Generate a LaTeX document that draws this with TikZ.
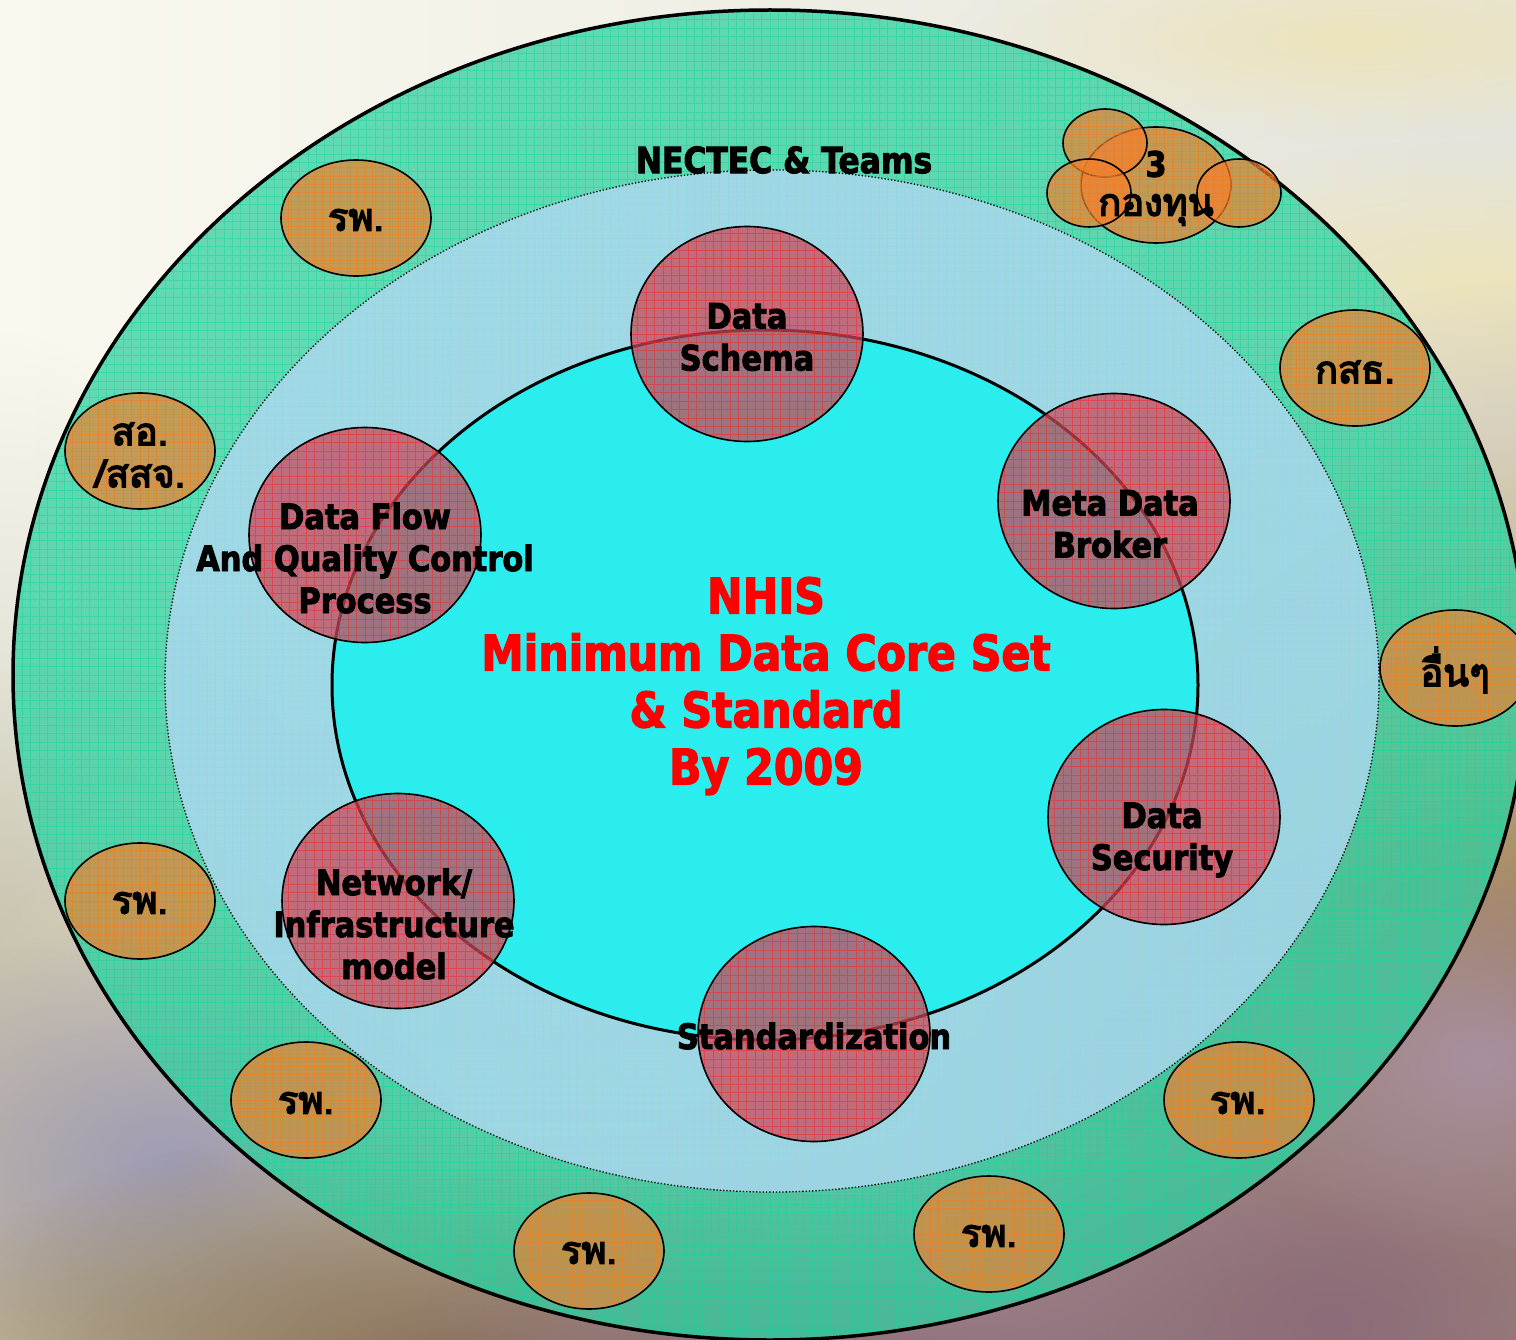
\documentclass[tikz,border=0pt]{standalone}
\usepackage{fontspec}
\setmainfont{DejaVu Sans}[FakeStretch=0.87, BoldFeatures={FakeBold=2.5}]
\newfontfamily\thaifont[Script=Thai,FakeBold=4]{Loma}
\usetikzlibrary{shapes.geometric,fadings}
\tikzfading[name=soft, inner color=transparent!0, outer color=transparent!100]
\definecolor{bgcream}{HTML}{FBF9EF}
\definecolor{bggrey}{HTML}{E4E4DC}
\definecolor{ringteal}{HTML}{30D0A0}
\definecolor{ringgrid}{HTML}{10D8A0}
\definecolor{midblue}{HTML}{B0D8F0}
\definecolor{midgrid}{HTML}{A8D0FF}
\definecolor{innercyan}{HTML}{20F0F0}
\definecolor{topicred}{HTML}{CC4555}
\definecolor{topicgrid}{HTML}{FF2020}
\definecolor{unitorange}{HTML}{F08030}
\definecolor{unitgrid}{HTML}{FF7A10}
\definecolor{bgyel}{HTML}{EDE4BC}
\definecolor{bggold}{HTML}{A88848}
\definecolor{bgmauve}{HTML}{8C6C78}
\definecolor{bglmauve}{HTML}{A890A0}
\definecolor{bgbeige}{HTML}{BFB296}
\definecolor{bglav}{HTML}{A09CB4}
\definecolor{bgolive}{HTML}{8C7A48}
\definecolor{bggg}{HTML}{D4D4C6}
\tikzset{
  blob/.style={path fading=soft},
  shapeel/.style={ellipse, inner sep=0pt, outer sep=0pt},
  gridded/.style={path picture={\draw[step=8.4pt, line width=0.8pt, draw opacity=0.5, #1] (path picture bounding box.south west) grid (path picture bounding box.north east);}},
  topic/.style={shapeel, draw=black, line width=1.6pt, fill=topicred, fill opacity=0.72, gridded=topicgrid, minimum width=232pt, minimum height=215pt},
  unit/.style={shapeel, draw=black, line width=1.6pt, fill=unitorange, fill opacity=0.7, gridded=unitgrid, minimum width=150pt, minimum height=116pt},
  smallunit/.style={shapeel, draw=black, line width=1.6pt, fill=unitorange, fill opacity=0.7, gridded=unitgrid, minimum width=84pt, minimum height=68pt},
  toptext/.style={font=\bfseries\fontsize{35}{42}\selectfont, align=center, text=black, inner sep=0pt},
  thaitext/.style={font=\thaifont\fontsize{38}{42}\selectfont, align=center, text=black, inner sep=0pt},
  redtext/.style={font=\bfseries\fontsize{49}{57}\selectfont, align=center, text=red, inner sep=0pt}
}
\begin{document}
\begin{tikzpicture}[x=1pt,y=-1pt]
\useasboundingbox (0,0) rectangle (1516,1340);
% background
\shade[left color=bgcream, right color=bggrey] (0,0) rectangle (1516,1340);
\fill[blob, bgyel] (1470,280) ellipse [x radius=420, y radius=140];
\fill[blob, bgyel] (1350,40) ellipse [x radius=400, y radius=100];
\fill[blob, bggg] (0,930) ellipse [x radius=300, y radius=600];
\fill[blob, bgbeige] (100,1280) ellipse [x radius=800, y radius=620];
\fill[blob, bglav] (170,1160) ellipse [x radius=360, y radius=240];
\fill[blob, bgolive] (450,1360) ellipse [x radius=560, y radius=240];
\fill[blob, bggold] (1530,1000) ellipse [x radius=620, y radius=720];
\fill[blob, bgmauve] (1330,1320) ellipse [x radius=900, y radius=600];
\fill[blob, bglmauve] (1480,1060) ellipse [x radius=260, y radius=200];
\fill[blob, bgmauve] (850,1380) ellipse [x radius=800, y radius=240];
% rings
\node[shapeel, draw=black, line width=3.5pt, fill=ringteal, fill opacity=0.75, gridded=ringgrid, minimum width=1514pt, minimum height=1330pt] (outer) at (770,675) {};
\node[shapeel, draw=black, line width=1.3pt, dotted, fill=midblue, fill opacity=0.8, gridded=midgrid, minimum width=1214pt, minimum height=1022pt] (middle) at (772,681) {};
\node[shapeel, draw=black, line width=3pt, fill=innercyan, fill opacity=0.9, minimum width=866pt, minimum height=710pt] (inner) at (765,685) {};
% orange units
\node[unit] (u1) at (356,218) {};
\node[unit] (u2) at (140,451) {};
\node[unit] (u3) at (140,901) {};
\node[unit] (u4) at (306,1100) {};
\node[unit] (u5) at (589,1251) {};
\node[unit] (u6) at (989,1234) {};
\node[unit] (u7) at (1239,1100) {};
\node[unit] (u8) at (1455,668) {};
\node[unit] (u9) at (1355,368) {};
\node[unit] (f0) at (1156,185) {};
\node[smallunit] (f1) at (1105,143) {};
\node[smallunit] (f2) at (1089,193) {};
\node[smallunit] (f3) at (1239,193) {};
% red topics
\node[topic] (t1) at (747,334) {};
\node[topic] (t2) at (1114,501) {};
\node[topic] (t3) at (1164,817) {};
\node[topic] (t4) at (814,1034) {};
\node[topic] (t5) at (398,901) {};
\node[topic] (t6) at (365,535) {};
% texts
\node[toptext, font=\bfseries\fontsize{36}{42}\selectfont] (lnectec) at (784,160) {NECTEC \& Teams};
\node[toptext] (l1) at (747,337) {Data\\Schema};
\node[toptext] (l2) at (1110,524) {Meta Data\\Broker};
\node[toptext] (l3) at (1162,840) {Data\\Security};
\node[toptext] (l4) at (814,1036) {Standardization};
\node[toptext] (l5) at (394,924) {Network/\\Infrastructure\\model};
\node[toptext] (l6) at (365,558) {Data Flow\\And Quality Control\\Process};
\node[redtext] (lcore) at (766,686) {NHIS\\Minimum Data Core Set\\\& Standard\\By 2009};
\node[thaitext] (lu1) at (356,220) {รพ.};
\node[thaitext] (lu2) at (140,455) {สอ.\\/สสจ.};
\node[thaitext] (lu3) at (140,903) {รพ.};
\node[thaitext] (lu4) at (306,1103) {รพ.};
\node[thaitext] (lu5) at (589,1253) {รพ.};
\node[thaitext] (lu6) at (989,1236) {รพ.};
\node[thaitext] (lu7) at (1238,1103) {รพ.};
\node[thaitext] (lu8) at (1455,670) {อื่นๆ};
\node[thaitext] (lu9) at (1355,372) {กสธ.};
\node[toptext] (lf3) at (1156,164) {3};
\node[thaitext] (lf) at (1156,210) {กองทุน};
\end{tikzpicture}
\end{document}
